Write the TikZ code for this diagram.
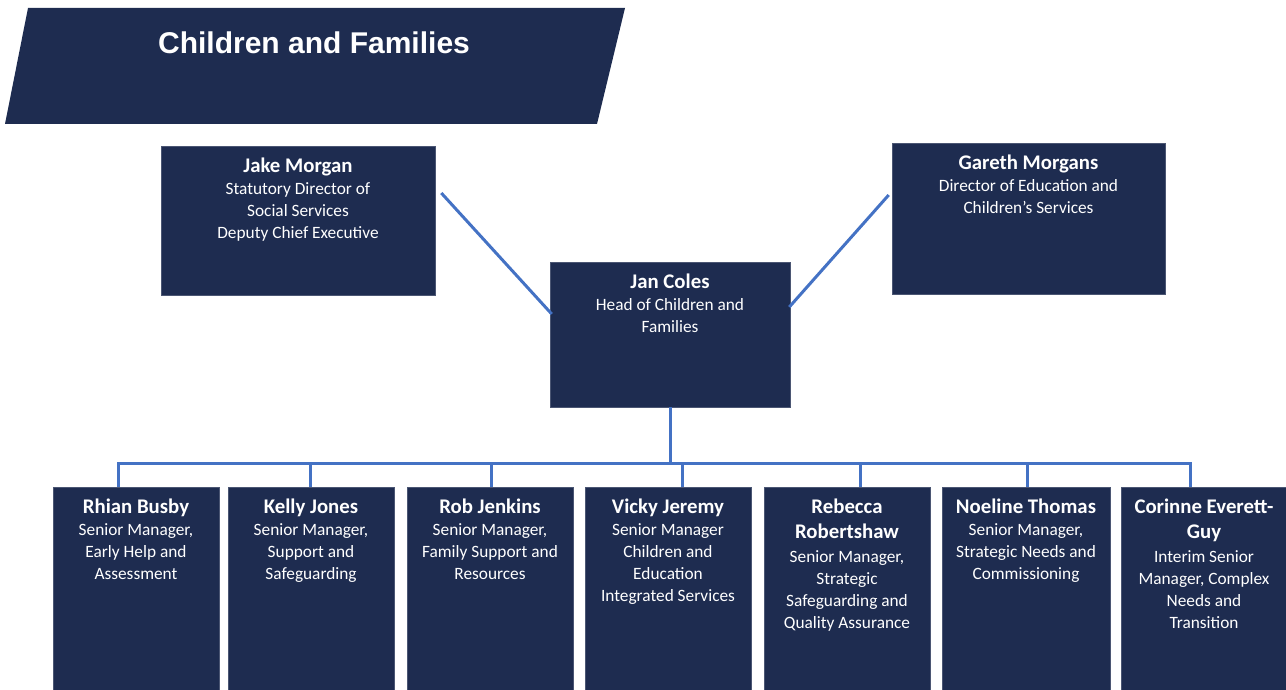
\documentclass[tikz,border=0pt]{standalone}
\usepackage{fontspec}
\setmainfont{Carlito}
\newfontfamily\titlefont{Liberation Sans}
\usetikzlibrary{calc}
\definecolor{navy}{HTML}{1E2C50}
\definecolor{linkblue}{HTML}{4472C4}
\tikzset{
  box/.style={fill=navy, draw=navy!80!white, line width=0.6pt, inner sep=0pt},
  txt/.style={text=white, align=center, inner sep=0pt, anchor=north,
              font=\fontsize{17.3}{22}\selectfont},
  conn/.style={draw=linkblue, line width=3pt},
}
\newcommand{\nm}[1]{{\fontsize{20.8}{25}\selectfont\bfseries #1}}
\begin{document}
\begin{tikzpicture}[x=1pt,y=-1pt]
\useasboundingbox (0,0) rectangle (1286,690);
% title
\fill[navy] (28,8) -- (625,8) -- (597,124) -- (5,124) -- cycle;
\node[text=white, inner sep=0pt, font=\titlefont\fontsize{30}{33}\selectfont\bfseries] (title) at (314,43) {Children and Families};
% top boxes
\node[box, minimum width=274pt, minimum height=149pt] (jake) at (298,220.5) {};
\node[box, minimum width=273pt, minimum height=151pt] (gareth) at (1028.5,218.5) {};
\node[box, minimum width=240pt, minimum height=145pt] (jan) at (670,334.5) {};
\node[txt] (jaket) at ([yshift=-12pt]jake.north) {\nm{Jake Morgan}\\Statutory Director of\\Social Services\\Deputy Chief Executive};
\node[txt] (garetht) at ([yshift=-12pt]gareth.north) {\nm{Gareth Morgans}\\Director of Education and\\Children’s Services};
\node[txt] (jant) at ([yshift=-12pt]jan.north) {\nm{Jan Coles}\\Head of Children and\\Families};
% bottom boxes
\node[box, minimum width=166pt, minimum height=206pt] (rhian) at (136,590) {};
\node[box, minimum width=166pt, minimum height=206pt] (kelly) at (311,590) {};
\node[box, minimum width=166pt, minimum height=206pt] (rob) at (490,590) {};
\node[box, minimum width=166pt, minimum height=206pt] (vicky) at (668,590) {};
\node[box, minimum width=166pt, minimum height=206pt] (rebecca) at (847,590) {};
\node[box, minimum width=168pt, minimum height=206pt] (noeline) at (1026,590) {};
\node[box, minimum width=166pt, minimum height=206pt] (corinne) at (1204,590) {};
\node[txt] (rhiant) at ([yshift=-12pt]rhian.north) {\nm{Rhian Busby}\\Senior Manager,\\Early Help and\\Assessment};
\node[txt] (kellyt) at ([yshift=-12pt]kelly.north) {\nm{Kelly Jones}\\Senior Manager,\\Support and\\Safeguarding};
\node[txt] (robt) at ([yshift=-12pt]rob.north) {\nm{Rob Jenkins}\\Senior Manager,\\Family Support and\\Resources};
\node[txt] (vickyt) at ([yshift=-12pt]vicky.north) {\nm{Vicky Jeremy}\\Senior Manager\\Children and\\Education\\Integrated Services};
\node[txt] (rebeccat) at ([yshift=-12pt]rebecca.north) {\nm{Rebecca}\\[3pt]\nm{Robertshaw}\\[2pt]Senior Manager,\\Strategic\\Safeguarding and\\Quality Assurance};
\node[txt] (noelinet) at ([yshift=-12pt]noeline.north) {\nm{Noeline Thomas}\\Senior Manager,\\Strategic Needs and\\Commissioning};
\node[txt] (corinnet) at ([yshift=-12pt]corinne.north) {\nm{Corinne Everett-}\\[3pt]\nm{Guy}\\[2pt]Interim Senior\\Manager, Complex\\Needs and\\Transition};
% connectors
\draw[conn] ([xshift=6pt,yshift=27.5pt]jake.east) -- ([xshift=2pt,yshift=20.5pt]jan.west);
\draw[conn] ([xshift=-3pt,yshift=23.5pt]gareth.west) -- ([xshift=-1pt,yshift=27.5pt]jan.east);
\coordinate (busL) at (118,463);
\coordinate (busR) at (1190,463);
\draw[conn] (jan.south) -- (jan.south |- busL);
\draw[conn, line cap=rect] (busL) -- (busR);
\draw[conn] ([xshift=-18pt]rhian.north) -- ([xshift=-18pt]rhian.north |- busL);
\draw[conn] ([xshift=-1pt]kelly.north) -- ([xshift=-1pt]kelly.north |- busL);
\draw[conn] ([xshift=1pt]rob.north) -- ([xshift=1pt]rob.north |- busL);
\draw[conn] ([xshift=14pt]vicky.north) -- ([xshift=14pt]vicky.north |- busL);
\draw[conn] ([xshift=13pt]rebecca.north) -- ([xshift=13pt]rebecca.north |- busL);
\draw[conn] ([xshift=1pt]noeline.north) -- ([xshift=1pt]noeline.north |- busL);
\draw[conn] ([xshift=-14pt]corinne.north) -- ([xshift=-14pt]corinne.north |- busL);
\end{tikzpicture}
\end{document}
